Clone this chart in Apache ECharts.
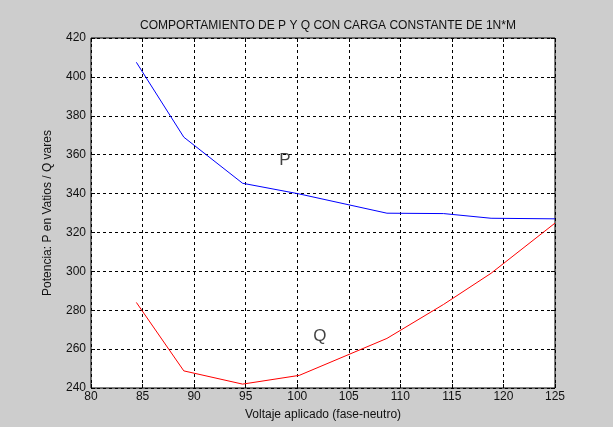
<!DOCTYPE html>
<html>
<head>
<meta charset="utf-8">
<script src="https://cdn.jsdelivr.net/npm/echarts@6/dist/echarts.min.js"></script>
<style>
html,body{margin:0;padding:0;background:#cdcdcd;}
#c{width:613px;height:427px;}
</style>
</head>
<body>
<div id="c"></div>
<script>
var voltage = [84.4, 89.0, 94.7, 100.2, 108.7, 114.2, 118.8, 125.0];
var pValues = [407.5, 369.0, 345.3, 339.8, 329.9, 329.7, 327.3, 327.0];
var qValues = [284.0, 248.8, 242.0, 246.5, 265.5, 283.0, 299.0, 324.8];
var labelPoints = [[98.8, 357, 'P'], [102.2, 266.5, 'Q']];
var xTicks = {min: 80, max: 125, interval: 5};
var yTicks = {min: 240, max: 420, interval: 20};

var font = 'Liberation Sans, Arial, sans-serif';
var chart = echarts.init(document.getElementById('c'), null, {renderer: 'canvas'});
function pairs(xs, ys){ return xs.map(function(x,i){return [x, ys[i]];}); }
var gridLine = {show: true, lineStyle: {color: '#000', type: [3, 3], width: 1}};
var tick = {show: true, inside: true, length: 4, lineStyle: {color: '#000'}};
chart.setOption({
  backgroundColor: '#cdcdcd',
  animation: false,
  title: {
    text: 'COMPORTAMIENTO DE P Y Q CON CARGA CONSTANTE DE 1N*M',
    left: 323, top: 15, textAlign: 'center',
    textStyle: {fontFamily: font, fontSize: 12, fontWeight: 'normal', color: '#111'}
  },
  grid: {left: 91, right: 58, top: 38, bottom: 39, show: true, backgroundColor: '#fff', borderColor: '#000', borderWidth: 1},
  xAxis: [{
    type: 'value', min: xTicks.min, max: xTicks.max, interval: xTicks.interval,
    name: 'Voltaje aplicado (fase-neutro)', nameLocation: 'middle', nameGap: 21,
    nameTextStyle: {fontFamily: font, fontSize: 12, color: '#111'},
    axisLine: {show: false},
    axisTick: tick,
    axisLabel: {fontFamily: font, fontSize: 12, color: '#111', margin: 3},
    splitLine: gridLine
  }, {
    type: 'value', position: 'top', min: xTicks.min, max: xTicks.max, interval: xTicks.interval,
    axisLine: {show: false}, axisTick: tick, axisLabel: {show: false}, splitLine: {show: false}
  }],
  yAxis: [{
    type: 'value', min: yTicks.min, max: yTicks.max, interval: yTicks.interval,
    name: 'Potencia: P en Vatios / Q vares', nameLocation: 'middle', nameGap: 37,
    nameTextStyle: {fontFamily: font, fontSize: 12, color: '#111'},
    axisLine: {show: false},
    axisTick: tick,
    axisLabel: {fontFamily: font, fontSize: 12, color: '#111', margin: 5},
    splitLine: gridLine
  }, {
    type: 'value', position: 'right', min: yTicks.min, max: yTicks.max, interval: yTicks.interval,
    axisLine: {show: false}, axisTick: tick, axisLabel: {show: false}, splitLine: {show: false}
  }],
  series: [
    {type: 'line', data: pairs(voltage, pValues), symbol: 'none', lineStyle: {color: '#0000ff', width: 1}},
    {type: 'line', data: pairs(voltage, qValues), symbol: 'none', lineStyle: {color: '#ff0000', width: 1}},
    {type: 'scatter', symbolSize: 0, data: labelPoints.map(function(p){return {value: [p[0], p[1]], name: p[2]};}),
     label: {show: true, position: 'inside', formatter: '{b}', fontFamily: font, fontSize: 17, color: '#111'}}
  ]
});
</script>
</body>
</html>
